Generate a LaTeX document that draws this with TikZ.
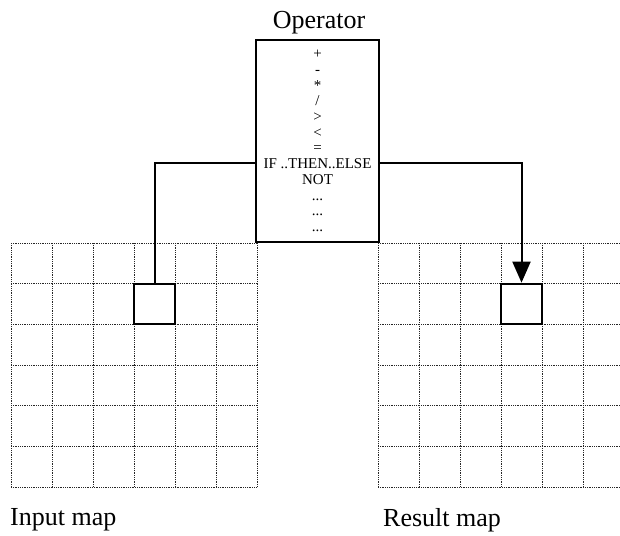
\documentclass[tikz,border=0pt]{standalone}
\usepackage{fontspec}
\setmainfont{Liberation Serif}
\usetikzlibrary{arrows.meta}
\begin{document}
\begin{tikzpicture}[x=1pt,y=-1pt,
  gridline/.style={black!85,densely dotted,line width=0.8pt},
  cellbox/.style={draw,line width=2pt,minimum width=41pt,minimum height=40.7pt,inner sep=0pt},
  opbox/.style={draw,line width=2pt,minimum width=123pt,minimum height=202pt,inner sep=0pt,
     align=center,font=\fontsize{15}{15.7}\selectfont},
  conn/.style={line width=2pt},
  biglabel/.style={font=\fontsize{26}{29}\selectfont,inner sep=0pt}]
\useasboundingbox (0,0) rectangle (620,535);
\clip (0,0) rectangle (620,535);
% left grid
\foreach \i in {0,...,6} {
  \draw[gridline] (11+41*\i,243) -- (11+41*\i,487);
  \draw[gridline] (11,243+40.67*\i) -- (257,243+40.67*\i);
}
% right grid
\foreach \i in {0,...,6} {
  \draw[gridline] (378+41*\i,243) -- (378+41*\i,487);
  \draw[gridline] (378,243+40.67*\i) -- (625,243+40.67*\i);
}
\node[cellbox] (inCell) at (154.5,304) {};
\node[cellbox] (outCell) at (521.5,304) {};
\node[opbox,fill=white] (op) at (317.5,141) {+\\-\\*\\/\\>\\<\\=\\IF ..THEN..ELSE\\NOT\\...\\...\\...};
\node[biglabel] (opTitle) at (319,23) {Operator};
\draw[conn] ([yshift=-22pt]op.west) -| (inCell.north);
\draw[conn,-{Triangle[length=21pt,width=18pt]}] ([yshift=-22pt]op.east) -| (outCell.north);
\node[biglabel,anchor=west] (inLbl) at (10,520) {Input map};
\node[biglabel,anchor=west] (outLbl) at (383,520) {Result map};
\end{tikzpicture}
\end{document}
